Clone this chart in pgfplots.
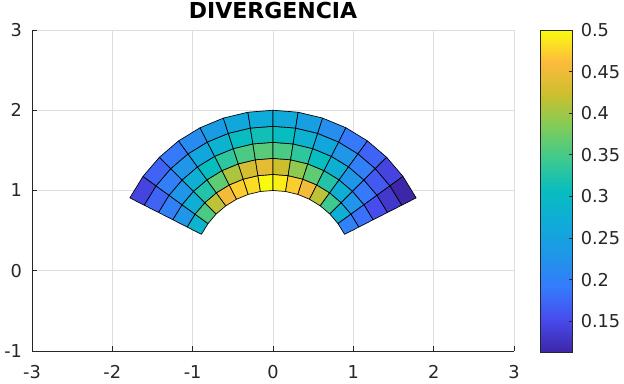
\documentclass[border=0pt]{standalone}
\usepackage{fontspec}
\setmainfont{DejaVu Sans}
\usepackage{pgfplots}
\usepgfplotslibrary{patchplots}
\pgfplotsset{compat=1.18}
\definecolor{axgray}{rgb}{0.15,0.15,0.15}
\begin{document}
\begin{tikzpicture}
\path[use as bounding box] (0,0) rectangle (468pt,288pt);
\begin{axis}[
  at={(24pt,24.75pt)}, anchor=south west,
  scale only axis, width=361.5pt, height=240.75pt,
  xmin=-3, xmax=3, ymin=-1, ymax=3,
  axis lines*=left, axis line style={-, axgray, line width=0.5pt},
  xtick={-3,-2,-1,0,1,2,3}, xticklabels={-3,-2,-1,0,1,2,3},
  ytick={-1,0,1,2,3}, yticklabels={-1,0,1,2,3},
  grid=major, grid style={color=black!13, line width=0.5pt},
  tick align=inside, major tick length=4pt, tick style={axgray, line width=0.5pt},
  ticklabel style={font=\fontsize{13.3}{16}\selectfont, text=axgray},
  xticklabel style={yshift=-7.3pt},
  yticklabel style={xshift=-4pt},
  title={DIVERGENCIA},
  title style={font=\bfseries\fontsize{16.5}{19}\selectfont, at={(0.5,1)}, anchor=base, yshift=2.7pt},
  colormap={parula}{
    rgb=(0.2422,0.1504,0.6603)
    rgb=(0.2780,0.2950,0.9300)
    rgb=(0.2100,0.4800,0.9900)
    rgb=(0.1200,0.5900,0.9100)
    rgb=(0.0600,0.6700,0.8500)
    rgb=(0.0300,0.7400,0.7500)
    rgb=(0.2400,0.7900,0.5600)
    rgb=(0.5000,0.8000,0.3500)
    rgb=(0.8000,0.7500,0.1800)
    rgb=(0.9900,0.7300,0.2400)
    rgb=(0.9763,0.9831,0.0538)
  },
  point meta min=0.113, point meta max=0.5,
  colorbar,
  colorbar/width=24pt,
  colorbar style={
    at={(parent axis.north east)}, anchor=north west, xshift=11pt,
    width=24pt, height=241.5pt,
    ytick={0.15,0.2,0.25,0.3,0.35,0.4,0.45,0.5},
    yticklabels={0.15,0.2,0.25,0.3,0.35,0.4,0.45,0.5},
    ytick pos=right, tick align=inside, major tick length=2.5pt,
    tick style={axgray, line width=0.5pt},
    axis line style={axgray, line width=0.5pt},
    yticklabel style={font=\fontsize{13.3}{16}\selectfont, text=axgray, xshift=3pt},
  },
]
\addplot[patch, patch type=rectangle, data cs=polar,
  table/row sep=\\,
  patch table with point meta={
0 1 7 6 0.287\\
1 2 8 7 0.229\\
2 3 9 8 0.198\\
3 4 10 9 0.171\\
4 5 11 10 0.144\\
6 7 13 12 0.353\\
7 8 14 13 0.276\\
8 9 15 14 0.229\\
9 10 16 15 0.198\\
10 11 17 16 0.171\\
12 13 19 18 0.415\\
13 14 20 19 0.326\\
14 15 21 20 0.276\\
15 16 22 21 0.229\\
16 17 23 22 0.190\\
18 19 25 24 0.454\\
19 20 26 25 0.365\\
20 21 27 26 0.307\\
21 22 28 27 0.260\\
22 23 29 28 0.214\\
24 25 31 30 0.473\\
25 26 32 31 0.407\\
26 27 33 32 0.334\\
27 28 34 33 0.283\\
28 29 35 34 0.240\\
30 31 37 36 0.481\\
31 32 38 37 0.430\\
32 33 39 38 0.353\\
33 34 40 39 0.307\\
34 35 41 40 0.260\\
36 37 43 42 0.500\\
37 38 44 43 0.442\\
38 39 45 44 0.361\\
39 40 46 45 0.314\\
40 41 47 46 0.268\\
42 43 49 48 0.492\\
43 44 50 49 0.423\\
44 45 51 50 0.353\\
45 46 52 51 0.307\\
46 47 53 52 0.264\\
48 49 55 54 0.473\\
49 50 56 55 0.392\\
50 51 57 56 0.334\\
51 52 58 57 0.283\\
52 53 59 58 0.245\\
54 55 61 60 0.454\\
55 56 62 61 0.365\\
56 57 63 62 0.307\\
57 58 64 63 0.260\\
58 59 65 64 0.217\\
60 61 67 66 0.415\\
61 62 68 67 0.326\\
62 63 69 68 0.276\\
63 64 70 69 0.229\\
64 65 71 70 0.190\\
66 67 73 72 0.345\\
67 68 74 73 0.276\\
68 69 75 74 0.229\\
69 70 76 75 0.198\\
70 71 77 76 0.171\\
72 73 79 78 0.276\\
73 74 80 79 0.229\\
74 75 81 80 0.190\\
75 76 82 81 0.163\\
76 77 83 82 0.144\\
78 79 85 84 0.202\\
79 80 86 85 0.183\\
80 81 87 86 0.152\\
81 82 88 87 0.132\\
82 83 89 88 0.113\\
  },
  shader=faceted, faceted color=black, line width=0.5pt]
table[row sep=\\, x=a, y=r] {
a r\\
153 1.0\\ 153 1.2\\ 153 1.4\\ 153 1.6\\ 153 1.8\\ 153 2.0\\
144 1.0\\ 144 1.2\\ 144 1.4\\ 144 1.6\\ 144 1.8\\ 144 2.0\\
135 1.0\\ 135 1.2\\ 135 1.4\\ 135 1.6\\ 135 1.8\\ 135 2.0\\
126 1.0\\ 126 1.2\\ 126 1.4\\ 126 1.6\\ 126 1.8\\ 126 2.0\\
117 1.0\\ 117 1.2\\ 117 1.4\\ 117 1.6\\ 117 1.8\\ 117 2.0\\
108 1.0\\ 108 1.2\\ 108 1.4\\ 108 1.6\\ 108 1.8\\ 108 2.0\\
99 1.0\\ 99 1.2\\ 99 1.4\\ 99 1.6\\ 99 1.8\\ 99 2.0\\
90 1.0\\ 90 1.2\\ 90 1.4\\ 90 1.6\\ 90 1.8\\ 90 2.0\\
81 1.0\\ 81 1.2\\ 81 1.4\\ 81 1.6\\ 81 1.8\\ 81 2.0\\
72 1.0\\ 72 1.2\\ 72 1.4\\ 72 1.6\\ 72 1.8\\ 72 2.0\\
63 1.0\\ 63 1.2\\ 63 1.4\\ 63 1.6\\ 63 1.8\\ 63 2.0\\
54 1.0\\ 54 1.2\\ 54 1.4\\ 54 1.6\\ 54 1.8\\ 54 2.0\\
45 1.0\\ 45 1.2\\ 45 1.4\\ 45 1.6\\ 45 1.8\\ 45 2.0\\
36 1.0\\ 36 1.2\\ 36 1.4\\ 36 1.6\\ 36 1.8\\ 36 2.0\\
27 1.0\\ 27 1.2\\ 27 1.4\\ 27 1.6\\ 27 1.8\\ 27 2.0\\
};
\end{axis}
\end{tikzpicture}
\end{document}
